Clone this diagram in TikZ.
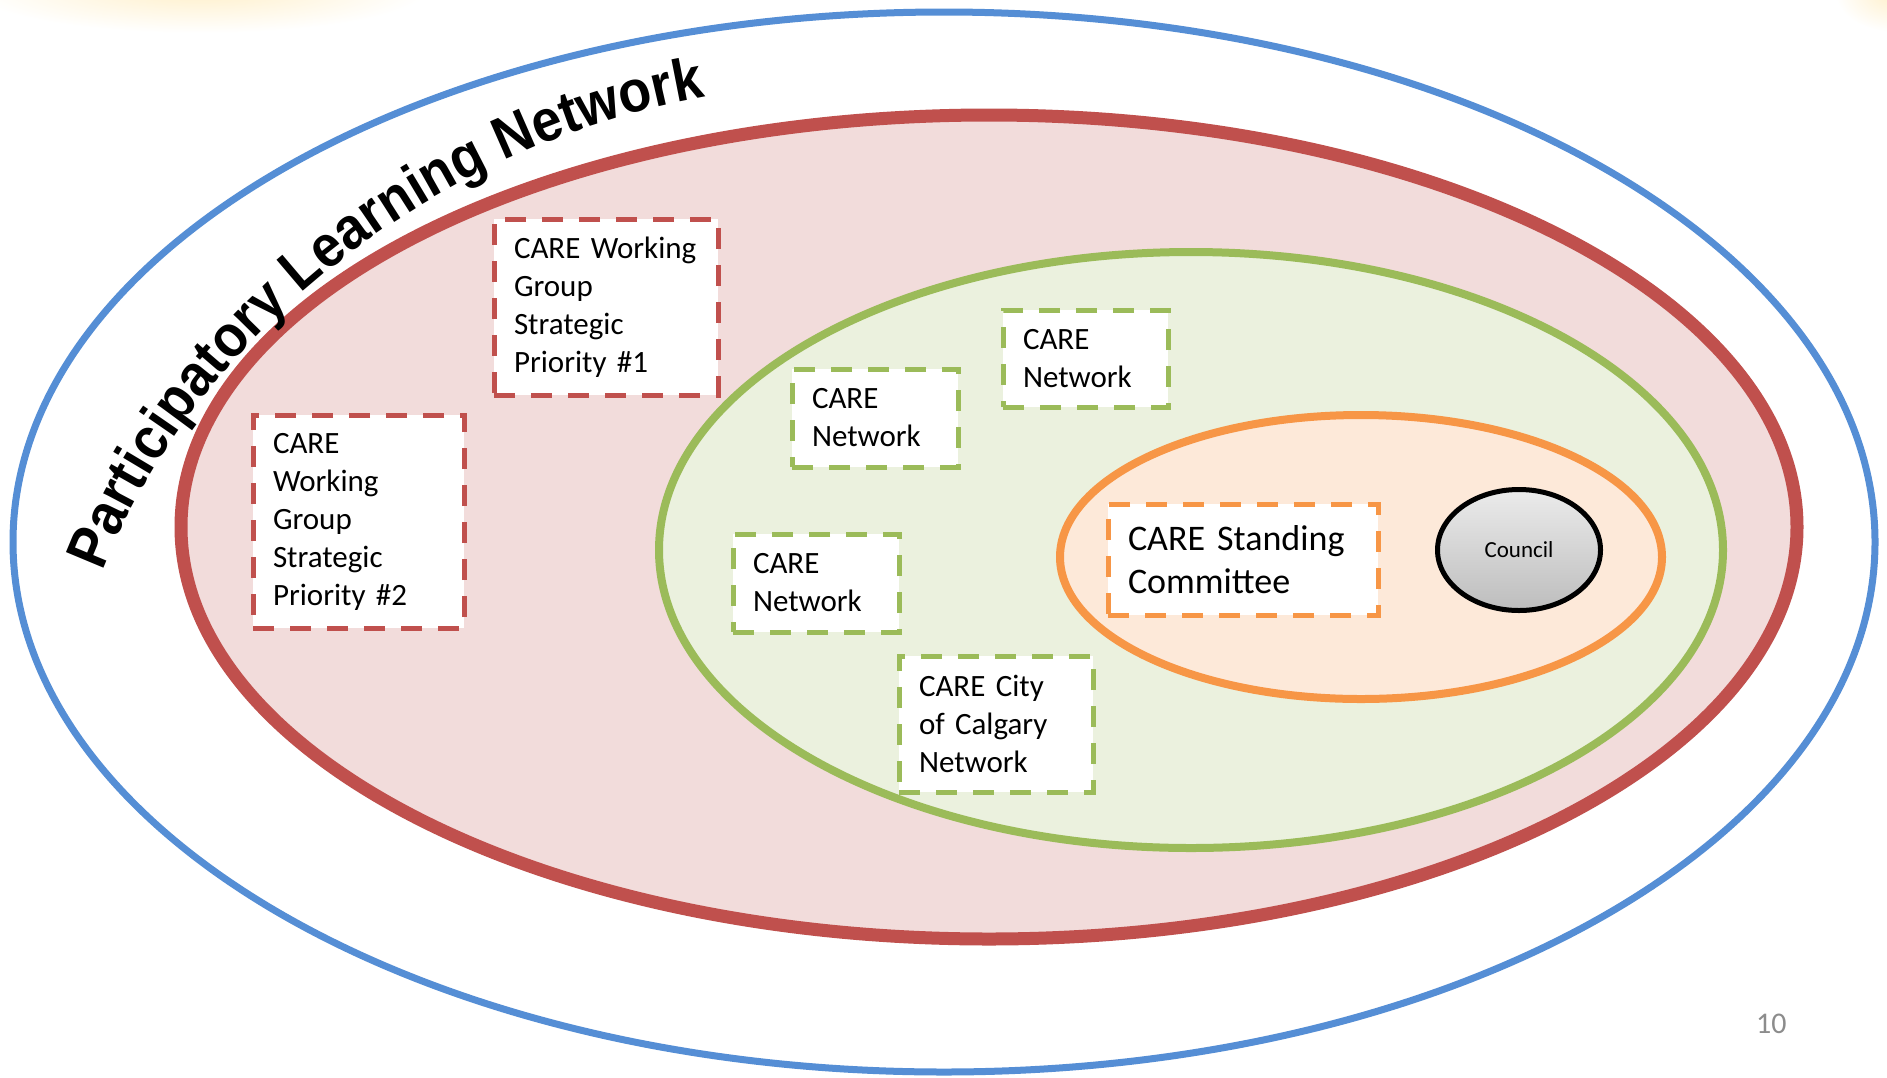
\documentclass[tikz,border=0pt]{standalone}
\usepackage{fontspec}
\setmainfont{Carlito}
\newfontfamily\arialfont{Liberation Sans}[FakeStretch=0.91]
\usetikzlibrary{decorations.text,shapes.geometric}
\definecolor{ringblue}{HTML}{558ED5}
\definecolor{ringred}{HTML}{C0504D}
\definecolor{fillred}{HTML}{F2DCDB}
\definecolor{ringgreen}{HTML}{9BBB59}
\definecolor{fillgreen}{HTML}{EBF1DE}
\definecolor{ringorange}{HTML}{F79646}
\definecolor{fillorange}{HTML}{FDE9D9}
\definecolor{pagegray}{HTML}{8C8C8C}
\definecolor{glowyellow}{HTML}{FFEFC8}
\definecolor{counciltop}{HTML}{EBEBEB}
\definecolor{councilbot}{HTML}{BDBDBD}
\newcommand{\titlefont}{\arialfont\bfseries\fontsize{59}{62}\selectfont}
\begin{document}
\begin{tikzpicture}[x=1pt,y=-1pt,
  careBox/.style={draw, fill=white, line width=5pt, dash pattern=on 21pt off 16pt,
    rectangle, inner xsep=20pt, inner ysep=0pt, outer sep=0pt, align=left,
    anchor=north west, font=\fontsize{31}{38}\selectfont},
  ring/.style={line width=#1}
]
\useasboundingbox (0,0) rectangle (1887,1077);
\fill[white] (0,0) rectangle (1887,1077);
% faint glow at the top edge
\shade[inner color=glowyellow, outer color=white] (200,-12) ellipse [x radius=230, y radius=45];
\shade[inner color=glowyellow, outer color=white] (1895,-8) ellipse [x radius=60, y radius=40];

% rings
\draw[ringblue, ring=7pt] (944,542) ellipse [x radius=931, y radius=530];
\draw[ringred, fill=fillred, ring=13pt] (989,527) ellipse [x radius=808, y radius=412];
\draw[ringgreen, fill=fillgreen, ring=8pt] (1191,550) ellipse [x radius=532, y radius=298];
\draw[ringorange, fill=fillorange, ring=8pt] (1361,557) ellipse [x radius=301, y radius=142];

% title along the arc
\path[decorate, decoration={text along path, text align={fit to path},
  text={|\titlefont|Participatory Learning Network}}]
  (103,572) .. controls (194,335) and (435,145) .. (705,97);

% boxes
\node[careBox, draw=ringred, text width=184pt, minimum height=176pt] (wg1) at (494,219)
  {\mbox{CARE Working}\\Group\\Strategic\\\mbox{Priority \#1}};
\node[careBox, draw=ringred, text width=171pt, minimum height=213pt] (wg2) at (253,415)
  {CARE\\Working\\Group\\Strategic\\\mbox{Priority \#2}};
\node[careBox, draw=ringgreen, text width=126pt, minimum height=98pt] (net1) at (792,369)
  {CARE\\Network};
\node[careBox, draw=ringgreen, text width=125pt, minimum height=97pt] (net2) at (1003,310)
  {CARE\\Network};
\node[careBox, draw=ringgreen, text width=126pt, minimum height=98pt] (net3) at (733,534)
  {CARE\\Network};
\node[careBox, draw=ringgreen, text width=154pt, minimum height=136pt] (city) at (899,656)
  {\mbox{CARE City}\\\mbox{of Calgary}\\Network};
\node[careBox, draw=ringorange, text width=230pt, minimum height=111pt,
  font=\fontsize{36}{43}\selectfont] (standing) at (1108,504)
  {\mbox{CARE Standing}\\Committee};

% council
\node[ellipse, draw=black, line width=5pt, minimum width=163pt, minimum height=121pt,
  inner sep=0pt, top color=counciltop, bottom color=councilbot,
  font=\fontsize{23}{28}\selectfont] (council) at (1519,550) {Council};

% page number
\node[anchor=base west, inner sep=0pt, text=pagegray, font=\fontsize{30}{36}\selectfont]
  (pagenum) at (1756,1033) {10};
\end{tikzpicture}
\end{document}
